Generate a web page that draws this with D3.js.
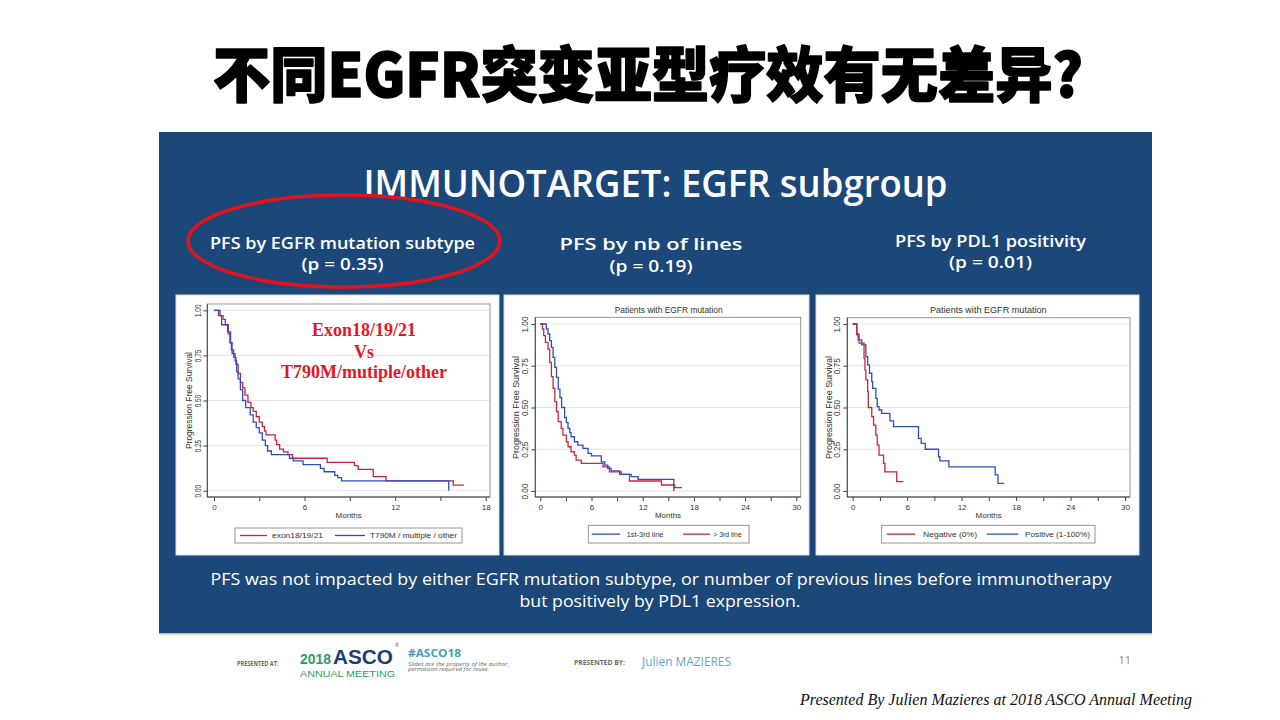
<!DOCTYPE html>
<html>
<head>
<meta charset="utf-8">
<script src="https://cdn.jsdelivr.net/npm/d3@7"></script>
<style>
  body { margin: 0; background: #fff; }
  svg { display: block; }
</style>
</head>
<body>
<div id="slide"></div>
<script>
// ---- texts ----
const slideTitle = "不同EGFR突变亚型疗效有无差异?";
const boardTitle = "IMMUNOTARGET: EGFR subgroup";
const panelHeads = [
  ["PFS by EGFR mutation subtype", "(p = 0.35)"],
  ["PFS by nb of lines", "(p = 0.19)"],
  ["PFS by PDL1 positivity", "(p = 0.01)"]
];
const conclusion = [
  "PFS was not impacted by either EGFR mutation subtype, or number of previous lines before immunotherapy",
  "but positively by PDL1 expression."
];
const annotation = ["Exon18/19/21", "Vs", "T790M/mutiple/other"];
const plotTitle = "Patients with EGFR mutation";
const yAxisTitle = "Progression Free Survival";
const xAxisTitle = "Months";

// ---- ticks ----
const yTicks = [0, 0.25, 0.5, 0.75, 1];
const xTicksShort = [0, 3, 6, 9, 12, 15, 18];
const xTicksLong = [0, 3, 6, 9, 12, 15, 18, 21, 24, 27, 30];

// ---- legends ----
const legendSubtype = ["exon18/19/21", "T790M / multiple / other"];
const legendLines = ["1st-3rd line", "> 3rd line"];
const legendPdl1 = ["Negative (0%)", "Positive (1-100%)"];

// ---- Kaplan-Meier step curves [months, PFS] ----
const exonCurve = [[0,1],[0.3,0.97],[0.6,0.95],[0.75,0.92],[0.95,0.87],[1.05,0.82],[1.15,0.78],
  [1.3,0.74],[1.45,0.70],[1.6,0.65],[1.75,0.60],[1.9,0.57],[2.05,0.53],[2.25,0.49],[2.45,0.46],
  [2.6,0.44],[2.8,0.41],[3.0,0.38],[3.2,0.355],[3.35,0.33],[3.45,0.31],[4.05,0.28],[4.15,0.255],
  [4.35,0.23],[4.6,0.215],[4.9,0.20],[5.2,0.18],[7.5,0.157],[9.3,0.139],[9.55,0.118],
  [10.55,0.078],[11.4,0.055],[15.85,0.031],[16.55,0.031]];
const t790Curve = [[0,1],[0.4,0.97],[0.5,0.92],[0.9,0.88],[1.1,0.82],[1.2,0.76],[1.4,0.72],
  [1.5,0.66],[1.6,0.62],[1.75,0.56],[1.9,0.50],[2.1,0.46],[2.4,0.42],[2.6,0.38],[2.8,0.35],
  [3.0,0.32],[3.2,0.28],[3.4,0.25],[3.55,0.22],[3.8,0.20],[5.0,0.18],[5.25,0.165],[5.9,0.145],
  [7.05,0.124],[7.3,0.105],[8.0,0.085],[8.2,0.072],[8.45,0.055],[15.55,0]];
const lines13Curve = [[0,1],[0.7,0.97],[0.9,0.94],[1.1,0.90],[1.3,0.86],[1.5,0.80],[1.7,0.74],
  [1.9,0.68],[2.1,0.61],[2.3,0.56],[2.5,0.50],[2.85,0.44],[3.05,0.41],[3.25,0.375],[3.45,0.35],
  [3.6,0.325],[4.0,0.295],[4.4,0.275],[5.0,0.255],[5.6,0.225],[6.0,0.21],[7.15,0.175],
  [7.55,0.155],[7.9,0.135],[8.3,0.12],[9.3,0.10],[10.65,0.086],[11.45,0.07],[15.65,0]];
const lines3Curve = [[0,1],[0.25,0.97],[0.4,0.93],[0.6,0.89],[0.9,0.85],[1.1,0.77],[1.3,0.685],
  [1.5,0.615],[1.7,0.535],[1.9,0.475],[2.1,0.415],[2.45,0.375],[2.65,0.335],[3.05,0.295],
  [3.25,0.265],[3.6,0.235],[4.0,0.215],[4.2,0.185],[4.8,0.165],[7.35,0.145],[8.1,0.115],
  [9.5,0.10],[10.45,0.06],[14.2,0.036],[15.75,0.02],[16.6,0.02]];
const negCurve = [[0,1],[0.45,0.94],[0.7,0.885],[1.25,0.795],[1.35,0.725],[1.45,0.665],
  [1.65,0.595],[1.72,0.50],[2.1,0.445],[2.3,0.395],[2.55,0.335],[2.7,0.275],[2.9,0.215],
  [3.4,0.165],[3.55,0.115],[4.85,0.056],[5.6,0.056]];
const posCurve = [[0,1],[0.45,0.935],[0.6,0.905],[1.0,0.875],[1.45,0.805],[1.65,0.755],
  [1.85,0.705],[2.1,0.655],[2.2,0.615],[2.55,0.555],[2.7,0.505],[2.9,0.485],[3.2,0.465],
  [4.1,0.42],[4.5,0.385],[7.25,0.315],[7.55,0.285],[8.0,0.25],[9.45,0.205],[9.6,0.18],
  [10.6,0.145],[15.7,0.096],[16.0,0.046],[16.7,0.046]];

// ---- colours ----
const RED = "#c8263e", BLUE = "#2e4fc0", NAVY = "#1b4879";
const STATA = "'Liberation Sans', Arial, sans-serif";
const SLIDE = "'Open Sans', 'DejaVu Sans', sans-serif";

// ---- panel layout ----
const panels = [
  { box: [176, 295, 499, 555], frame: [207.3, 304, 490, 497],
    xPx: [214, 485.7], xMax: 18, yPx: [490.7, 310.3], xTicks: xTicksShort,
    curves: [{ data: exonCurve, color: RED }, { data: t790Curve, color: BLUE }],
    legend: { box: [235, 528, 462, 543], items: [
      { x1: 240, x2: 267, tx: 272, tw: 51, label: legendSubtype[0], color: RED },
      { x1: 335, x2: 365, tx: 370, tw: 87, label: legendSubtype[1], color: BLUE } ] },
    yLab: { off: 6, len: 12.5, font: 8.5, titleOff: 15, titleLen: 97 }, title: null },
  { box: [504, 295, 809, 555], frame: [535.3, 317.3, 800.7, 497],
    xPx: [540.3, 796.3], xMax: 30, yPx: [491, 324], xTicks: xTicksLong,
    curves: [{ data: lines3Curve, color: RED }, { data: lines13Curve, color: BLUE }],
    legend: { box: [588.3, 525.3, 749, 543], items: [
      { x1: 591.7, x2: 620, tx: 626.7, tw: 36.7, label: legendLines[0], color: BLUE },
      { x1: 683.3, x2: 710, tx: 713.3, tw: 28.4, label: legendLines[1], color: RED } ] },
    yLab: { off: 7.3, len: 16, font: 9, titleOff: 16.3, titleLen: 103 },
    title: { x: 668.7, w: 108 } },
  { box: [816, 295, 1139, 555], frame: [847.3, 317.7, 1130, 497],
    xPx: [852.7, 1125], xMax: 30, yPx: [491, 324], xTicks: xTicksLong,
    curves: [{ data: posCurve, color: BLUE }, { data: negCurve, color: RED }],
    legend: { box: [881.7, 525.3, 1095, 543], items: [
      { x1: 886.7, x2: 915, tx: 923, tw: 54, label: legendPdl1[0], color: RED },
      { x1: 986.7, x2: 1018.3, tx: 1025, tw: 65, label: legendPdl1[1], color: BLUE } ] },
    yLab: { off: 7.3, len: 16, font: 9, titleOff: 15.7, titleLen: 103 },
    title: { x: 988.3, w: 116.7 } }
];

const svg = d3.select("#slide").append("svg")
  .attr("width", 1280)
  .attr("height", 720)
  .style("background", "#fff");

function addText(g, o) {
  const t = g.append("text")
    .attr("x", o.x).attr("y", o.y)
    .attr("text-anchor", o.anchor || "start")
    .style("font-family", o.family || SLIDE)
    .style("font-size", o.size + "px")
    .style("font-weight", o.weight || 400)
    .style("font-style", o.italic ? "italic" : "normal")
    .style("fill", o.fill || "#000")
    .text(o.text);
  if (o.len) t.attr("textLength", o.len).attr("lengthAdjust", "spacingAndGlyphs");
  if (o.ls) t.style("letter-spacing", o.ls);
  return t;
}

// 1) Title on top (stroked a little to get the heavy look)
addText(svg, { x: 648, y: 97, text: slideTitle, size: 60, weight: 900, anchor: "middle",
  family: "'Noto Sans CJK SC', sans-serif", len: 870 })
  .style("stroke", "#000").style("stroke-width", 1.6).style("stroke-linejoin", "round");

// 2) Blue board
svg.append("rect").attr("x", 159).attr("y", 132).attr("width", 993).attr("height", 501)
  .style("fill", NAVY);
svg.append("line").attr("x1", 159).attr("x2", 1152).attr("y1", 633.8).attr("y2", 633.8)
  .style("stroke", "#d6c273").style("stroke-width", 1.6);

addText(svg, { x: 655.5, y: 197, text: boardTitle, size: 38, weight: 600, anchor: "middle",
  fill: "#fff", len: 584 });

const headPos = [
  { x: 342.5, y: [249, 270], w: [265, 82] },
  { x: 651, y: [250, 272], w: [183, 83] },
  { x: 990.5, y: [247, 268], w: [191, 83] }
];
panelHeads.forEach((h, i) => {
  const p = headPos[i];
  addText(svg, { x: p.x, y: p.y[0], text: h[0], size: 17, weight: 600, anchor: "middle", fill: "#fff", len: p.w[0] });
  addText(svg, { x: p.x, y: p.y[1], text: h[1], size: 17, weight: 600, anchor: "middle", fill: "#fff", len: p.w[1] });
});

// red ellipse round the first heading
svg.append("ellipse").attr("cx", 344).attr("cy", 241).attr("rx", 156).attr("ry", 46)
  .style("fill", "none").style("stroke", "#e3121c").style("stroke-width", 3.5);

addText(svg, { x: 661, y: 585, text: conclusion[0], size: 16.5, anchor: "middle", fill: "#fff", len: 901 });
addText(svg, { x: 660, y: 607, text: conclusion[1], size: 16.5, anchor: "middle", fill: "#fff", len: 281 });

// 3) Kaplan-Meier panels
panels.forEach(drawKM);

function drawKM(cfg) {
  const g = svg.append("g");
  const [bx0, by0, bx1, by1] = cfg.box;
  const [fx0, fy0, fx1, fy1] = cfg.frame;

  g.append("rect").attr("x", bx0).attr("y", by0).attr("width", bx1 - bx0).attr("height", by1 - by0)
    .style("fill", "#fff").style("stroke", "#d8dde4").style("stroke-width", 1);

  const x = d3.scaleLinear().domain([0, cfg.xMax]).range(cfg.xPx);
  const y = d3.scaleLinear().domain([0, 1]).range(cfg.yPx);

  // grid
  g.append("g").selectAll("line").data(yTicks).enter().append("line")
    .attr("x1", fx0).attr("x2", fx1)
    .attr("y1", d => y(d)).attr("y2", d => y(d))
    .style("stroke", "#e4e4e4").style("stroke-width", 1);

  // frame
  g.append("rect").attr("x", fx0).attr("y", fy0).attr("width", fx1 - fx0).attr("height", fy1 - fy0)
    .style("fill", "none").style("stroke", "#8a8a8a").style("stroke-width", 0.9);

  // x axis
  const xa = g.append("g").attr("transform", `translate(0,${fy1})`)
    .call(d3.axisBottom(x).tickValues(cfg.xTicks).tickSize(4).tickPadding(3)
      .tickFormat(d => (d % 6 === 0 ? d : "")));
  xa.select(".domain").attr("d", `M${fx0},0H${fx1}`).style("stroke", "#444");
  xa.selectAll(".tick line").style("stroke", "#444");
  xa.selectAll("text").style("font-family", STATA).style("font-size", "8px").style("fill", "#333");

  // y axis
  const ya = g.append("g").attr("transform", `translate(${fx0},0)`)
    .call(d3.axisLeft(y).tickValues(yTicks).tickSize(4).tickFormat(d3.format(".2f")));
  ya.select(".domain").attr("d", `M0,${fy0}V${fy1}`).style("stroke", "#444");
  ya.selectAll(".tick line").style("stroke", "#444");
  ya.selectAll("text")
    .attr("transform", "rotate(-90)")
    .attr("x", 0).attr("y", -cfg.yLab.off).attr("dy", 0)
    .attr("text-anchor", "middle")
    .attr("textLength", cfg.yLab.len).attr("lengthAdjust", "spacingAndGlyphs")
    .style("font-family", STATA).style("font-size", cfg.yLab.font + "px").style("fill", "#333");

  // axis titles
  const yMid = (cfg.yPx[0] + cfg.yPx[1]) / 2;
  addText(g, { x: 0, y: 0, text: yAxisTitle, size: 9, anchor: "middle", family: STATA,
    fill: "#333", len: cfg.yLab.titleLen })
    .attr("transform", `translate(${fx0 - cfg.yLab.titleOff},${yMid}) rotate(-90)`);
  addText(g, { x: (fx0 + fx1) / 2, y: 518, text: xAxisTitle, size: 8, anchor: "middle",
    family: STATA, fill: "#333" });

  if (cfg.title) {
    addText(g, { x: cfg.title.x, y: 313, text: plotTitle, size: 8.5, anchor: "middle",
      family: STATA, fill: "#333", len: cfg.title.w });
  }

  // curves
  const line = d3.line().x(d => x(d[0])).y(d => y(d[1])).curve(d3.curveStepAfter);
  g.append("g").selectAll("path").data(cfg.curves).enter().append("path")
    .attr("d", d => line(d.data))
    .style("fill", "none")
    .style("stroke", d => d.color)
    .style("stroke-width", 1.3);

  // legend
  const L = cfg.legend;
  const ly = (L.box[1] + L.box[3]) / 2;
  g.append("rect").attr("x", L.box[0]).attr("y", L.box[1])
    .attr("width", L.box[2] - L.box[0]).attr("height", L.box[3] - L.box[1])
    .style("fill", "#fff").style("stroke", "#8a8a8a").style("stroke-width", 0.9);
  L.items.forEach(it => {
    g.append("line").attr("x1", it.x1).attr("x2", it.x2).attr("y1", ly).attr("y2", ly)
      .style("stroke", it.color).style("stroke-width", 1.3);
    addText(g, { x: it.tx, y: ly + 2.7, text: it.label, size: 7.5, family: STATA,
      fill: "#333", len: it.tw });
  });
}

// red annotation in the first panel
annotation.forEach((t, i) => {
  addText(svg, { x: 364, y: [336, 358, 378][i], text: t, size: 18, weight: 700, anchor: "middle",
    family: "'Liberation Serif', 'Times New Roman', serif", fill: "#e2171f" });
});

// 4) Footer
const foot = svg.append("g");
const LOGO = "'Liberation Sans', Arial, sans-serif";
addText(foot, { x: 237, y: 665.5, text: "PRESENTED AT:", size: 6.5, weight: 700, fill: "#6b6b6b", len: 41.5 });
addText(foot, { x: 300, y: 664, text: "2018", size: 15, weight: 700, fill: "#2e9a6a", len: 31, family: LOGO });
addText(foot, { x: 333, y: 664, text: "ASCO", size: 21, weight: 700, fill: "#1c3d73", len: 60, family: LOGO });
addText(foot, { x: 395, y: 647, text: "®", size: 5, fill: "#1c3d73", family: LOGO });
addText(foot, { x: 300, y: 677, text: "ANNUAL MEETING", size: 9, fill: "#2e9a6a", len: 95, family: LOGO });
addText(foot, { x: 408, y: 657, text: "#ASCO18", size: 11, weight: 700, fill: "#3f9fb8", len: 53 });
addText(foot, { x: 408, y: 666, text: "Slides are the property of the author,", size: 5, italic: true, fill: "#666", len: 101 });
addText(foot, { x: 408, y: 671, text: "permission required for reuse.", size: 5, italic: true, fill: "#666", len: 81 });
addText(foot, { x: 574, y: 665, text: "PRESENTED BY:", size: 6.5, weight: 700, fill: "#6b6b6b", len: 51 });
addText(foot, { x: 642, y: 666, text: "Julien MAZIERES", size: 12, fill: "#62a6d6", len: 89 });
addText(foot, { x: 1131, y: 664, text: "11", size: 11, fill: "#8a8a8a", anchor: "end" });
addText(foot, { x: 1192, y: 705, text: "Presented By Julien Mazieres at 2018 ASCO Annual Meeting", size: 16,
  italic: true, anchor: "end", family: "'Liberation Serif', 'Times New Roman', serif", fill: "#111",
  len: 392 });
</script>
</body>
</html>
